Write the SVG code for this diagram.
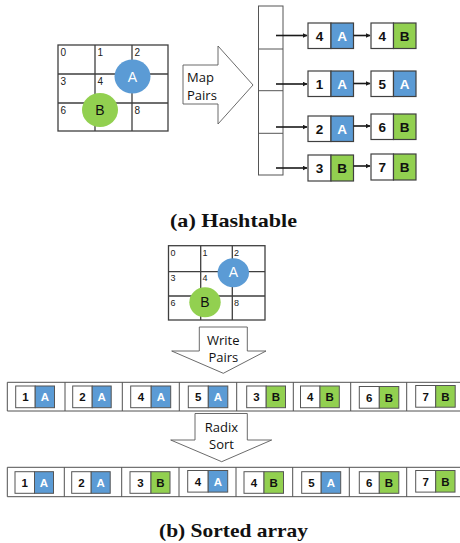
<svg xmlns="http://www.w3.org/2000/svg" width="460" height="543" viewBox="0 0 460 543">
  <defs>
    <marker id="ah" viewBox="0 0 10 10" refX="9" refY="5" markerWidth="5" markerHeight="5" orient="auto" markerUnits="userSpaceOnUse">
      <path d="M0,0 L10,5 L0,10 z" fill="#1a1a1a"/>
    </marker>
    <style>
      .grid{fill:none;stroke:#3f3f3f;stroke-width:1.3}
      .gnum{font-family:"Liberation Sans",Arial,sans-serif;font-size:10px;fill:#222}
      .gnum2{font-family:"Liberation Sans",Arial,sans-serif;font-size:9px;fill:#222}
      .blue{fill:#5b9bd5}
      .green{fill:#92d050}
      .circ{font-family:"Liberation Sans",Arial,sans-serif;font-size:14px;text-anchor:middle}
      .big{fill:#fff;stroke:#5a5a5a;stroke-width:0.9}
      .bigtxt{font-family:"Open Sans","Liberation Sans",sans-serif;font-size:13px;fill:#111}
      .bucket{fill:#fff;stroke:#555;stroke-width:1}
      .cellw{fill:#fff;stroke:#404040;stroke-width:1.2}
      .cellb{fill:#5b9bd5;stroke:#404040;stroke-width:1.2}
      .cellg{fill:#92d050;stroke:#404040;stroke-width:1.2}
      .num{font-family:"Liberation Sans",Arial,sans-serif;font-weight:bold;font-size:13.5px;text-anchor:middle;fill:#111}
      .lw{font-family:"Liberation Sans",Arial,sans-serif;font-weight:bold;font-size:13.5px;text-anchor:middle;fill:#fff}
      .lb{font-family:"Liberation Sans",Arial,sans-serif;font-weight:bold;font-size:13.5px;text-anchor:middle;fill:#111}
      .anum{font-family:"Liberation Sans",Arial,sans-serif;font-weight:bold;font-size:11.5px;text-anchor:middle;fill:#111}
      .alw{font-family:"Liberation Sans",Arial,sans-serif;font-weight:bold;font-size:11.5px;text-anchor:middle;fill:#fff}
      .alb{font-family:"Liberation Sans",Arial,sans-serif;font-weight:bold;font-size:11.5px;text-anchor:middle;fill:#111}
      .arr{fill:#fff;stroke:#505050;stroke-width:1}
      .pw{fill:#fff;stroke:#555;stroke-width:1}
      .pb{fill:#5b9bd5;stroke:#555;stroke-width:1}
      .pg{fill:#92d050;stroke:#555;stroke-width:1}
      .link{stroke:#1a1a1a;stroke-width:1.6;fill:none}
      .cap{font-family:"Liberation Serif","Times New Roman",serif;font-weight:bold;font-size:19px;text-anchor:middle;fill:#111}
    </style>
  </defs>

  <!-- (a) hashtable: 3x3 grid with the two particles -->
  <g id="grid-a">
    <rect class="grid" x="58" y="45" width="110" height="86"/>
    <path class="grid" d="M95,45V131M132,45V131M58,74H168M58,103H168"/>
    <text class="gnum" x="60.5" y="55.5">0</text>
    <text class="gnum" x="97.5" y="55.5">1</text>
    <text class="gnum" x="134.5" y="55.5">2</text>
    <text class="gnum" x="60.5" y="84.5">3</text>
    <text class="gnum" x="97.5" y="84.5">4</text>
    <text class="gnum" x="60.5" y="113.5">6</text>
    <text class="gnum" x="134.5" y="113.5">8</text>
  </g>
  <g id="particle-a1">
    <ellipse class="blue" cx="132.5" cy="76.5" rx="18" ry="17"/>
    <text class="circ" x="132.5" y="81.5" fill="#fff">A</text>
  </g>
  <g id="particle-b1">
    <ellipse class="green" cx="100" cy="110" rx="18" ry="17"/>
    <text class="circ" x="100" y="115" fill="#111">B</text>
  </g>

  <g id="map-pairs">
    <polygon class="big" points="183,65 218,65 218,46 253,85 218,124 218,104 183,104"/>
    <text class="bigtxt" x="187" y="81.5">Map</text>
    <text class="bigtxt" x="187" y="100">Pairs</text>
  </g>

  <g id="buckets">
    <rect class="bucket" x="258.5" y="6" width="24.5" height="169"/>
    <path class="bucket" d="M258.5,49H283M258.5,90.7H283M258.5,133.3H283"/>
  </g>

  <!-- hashtable entries -->
  <g id="e4A">
    <rect class="cellw" x="308" y="23" width="23" height="25.5"/>
    <rect class="cellb" x="331" y="23" width="22.5" height="25.5"/>
    <text class="num" x="319.5" y="40.5">4</text><text class="lw" x="342.2" y="40.5">A</text>
  </g>
  <g id="e4B">
    <rect class="cellw" x="371" y="23" width="22.5" height="25.5"/>
    <rect class="cellg" x="393.5" y="23" width="22.5" height="25.5"/>
    <text class="num" x="382.2" y="40.5">4</text><text class="lb" x="404.7" y="40.5">B</text>
  </g>
  <g id="e1A">
    <rect class="cellw" x="308" y="71" width="23" height="25.5"/>
    <rect class="cellb" x="331" y="71" width="22.5" height="25.5"/>
    <text class="num" x="319.5" y="88.5">1</text><text class="lw" x="342.2" y="88.5">A</text>
  </g>
  <g id="e5A">
    <rect class="cellw" x="371" y="71" width="22.5" height="25.5"/>
    <rect class="cellb" x="393.5" y="71" width="22.5" height="25.5"/>
    <text class="num" x="382.2" y="88.5">5</text><text class="lw" x="404.7" y="88.5">A</text>
  </g>
  <g id="e2A">
    <rect class="cellw" x="308" y="116" width="23" height="25.5"/>
    <rect class="cellb" x="331" y="116" width="22.5" height="25.5"/>
    <text class="num" x="319.5" y="133.5">2</text><text class="lw" x="342.2" y="133.5">A</text>
  </g>
  <g id="e6B">
    <rect class="cellw" x="371" y="114" width="22.5" height="25.5"/>
    <rect class="cellg" x="393.5" y="114" width="22.5" height="25.5"/>
    <text class="num" x="382.2" y="131.5">6</text><text class="lb" x="404.7" y="131.5">B</text>
  </g>
  <g id="e3B">
    <rect class="cellw" x="308" y="155" width="23" height="26"/>
    <rect class="cellg" x="331" y="155" width="22.5" height="26"/>
    <text class="num" x="319.5" y="172.5">3</text><text class="lb" x="342.2" y="172.5">B</text>
  </g>
  <g id="e7B">
    <rect class="cellw" x="371" y="154" width="22.5" height="26"/>
    <rect class="cellg" x="393.5" y="154" width="22.5" height="26"/>
    <text class="num" x="382.2" y="171.5">7</text><text class="lb" x="404.7" y="171.5">B</text>
  </g>

  <g id="links">
    <line class="link" x1="276" y1="35.5" x2="307" y2="35.5" marker-end="url(#ah)"/>
    <line class="link" x1="353.5" y1="35.5" x2="370" y2="35.5" marker-end="url(#ah)"/>
    <line class="link" x1="276" y1="84" x2="307" y2="84" marker-end="url(#ah)"/>
    <line class="link" x1="353.5" y1="83.5" x2="370" y2="83.5" marker-end="url(#ah)"/>
    <line class="link" x1="276" y1="127" x2="307" y2="127" marker-end="url(#ah)"/>
    <line class="link" x1="353.5" y1="126" x2="370" y2="126" marker-end="url(#ah)"/>
    <line class="link" x1="276" y1="168" x2="307" y2="168" marker-end="url(#ah)"/>
    <line class="link" x1="353.5" y1="166" x2="370" y2="166" marker-end="url(#ah)"/>
  </g>

  <text class="cap" x="233.5" y="226.5" textLength="127" lengthAdjust="spacingAndGlyphs">(a) Hashtable</text>

  <!-- (b) sorted array -->
  <g id="grid-b">
    <rect class="grid" x="168.5" y="245.7" width="96.5" height="74.3"/>
    <path class="grid" d="M200.7,245.7V320M232.3,245.7V320M168.5,271.7H265M168.5,296H265"/>
    <text class="gnum2" x="170.5" y="255.5">0</text>
    <text class="gnum2" x="202.5" y="255.5">1</text>
    <text class="gnum2" x="234" y="255.5">2</text>
    <text class="gnum2" x="170.5" y="280.5">3</text>
    <text class="gnum2" x="202.5" y="280.5">4</text>
    <text class="gnum2" x="170.5" y="305.5">6</text>
    <text class="gnum2" x="234" y="305.5">8</text>
  </g>
  <g id="particle-a2">
    <ellipse class="blue" cx="233.3" cy="272.7" rx="15.7" ry="14.5"/>
    <text class="circ" x="233.3" y="277.3" fill="#fff" font-size="13">A</text>
  </g>
  <g id="particle-b2">
    <ellipse class="green" cx="205" cy="302.3" rx="15.7" ry="15"/>
    <text class="circ" x="205" y="307" fill="#111" font-size="13">B</text>
  </g>

  <g id="write-pairs">
    <polygon class="big" points="199.3,327 247.3,327 247.3,351 266,351 223.3,373.3 171.7,351 199.3,351"/>
    <text class="bigtxt" x="223.3" y="344.5" text-anchor="middle">Write</text>
    <text class="bigtxt" x="223.3" y="362" text-anchor="middle">Pairs</text>
  </g>

  <g id="array-unsorted">
    <path class="arr" d="M460,382.3H7.3V411H460"/>
    <path class="arr" d="M65,382.3V411M122.3,382.3V411M179.3,382.3V411M236.7,382.3V411M293.3,382.3V411M350.7,382.3V411M406.7,382.3V411"/>
    <g id="u1"><rect class="pw" x="15.7" y="386" width="19.5" height="21.7"/><rect class="pb" x="35.2" y="386" width="19.3" height="21.7"/><text class="anum" x="25.4" y="401">1</text><text class="alw" x="44.8" y="401">A</text></g>
    <g id="u2"><rect class="pw" x="72.7" y="386" width="19.5" height="21.7"/><rect class="pb" x="92.2" y="386" width="19" height="21.7"/><text class="anum" x="82.4" y="401">2</text><text class="alw" x="101.7" y="401">A</text></g>
    <g id="u3"><rect class="pw" x="130.7" y="386" width="20.5" height="21.7"/><rect class="pb" x="151.2" y="386" width="19.5" height="21.7"/><text class="anum" x="141" y="401">4</text><text class="alw" x="161" y="401">A</text></g>
    <g id="u4"><rect class="pw" x="188.3" y="386" width="20" height="21.7"/><rect class="pb" x="208.3" y="386" width="19.5" height="21.7"/><text class="anum" x="198.3" y="401">5</text><text class="alw" x="218" y="401">A</text></g>
    <g id="u5"><rect class="pw" x="246.7" y="386" width="19.5" height="21.7"/><rect class="pg" x="266.2" y="386" width="19.3" height="21.7"/><text class="anum" x="256.4" y="401">3</text><text class="alb" x="275.8" y="401">B</text></g>
    <g id="u6"><rect class="pw" x="300.5" y="386" width="19.5" height="21.7"/><rect class="pg" x="320" y="386" width="19.3" height="21.7"/><text class="anum" x="310.2" y="401">4</text><text class="alb" x="329.6" y="401">B</text></g>
    <g id="u7"><rect class="pw" x="359.3" y="386.5" width="20" height="21.7"/><rect class="pg" x="379.3" y="386.5" width="19.5" height="21.7"/><text class="anum" x="369.3" y="401.5">6</text><text class="alb" x="389" y="401.5">B</text></g>
    <g id="u8"><rect class="pw" x="415.7" y="385.5" width="20" height="21.7"/><rect class="pg" x="435.7" y="385.5" width="19.5" height="21.7"/><text class="anum" x="425.7" y="400.5">7</text><text class="alb" x="445.4" y="400.5">B</text></g>
  </g>

  <g id="radix-sort">
    <polygon class="big" points="195,413.5 247.3,413.5 247.3,440 271.7,440 221.7,461.7 170.7,440 195,440"/>
    <text class="bigtxt" x="221.5" y="431.5" text-anchor="middle">Radix</text>
    <text class="bigtxt" x="221.5" y="449" text-anchor="middle">Sort</text>
  </g>

  <g id="array-sorted">
    <path class="arr" d="M460,467.3H7.3V496.7H460"/>
    <path class="arr" d="M64.3,467.3V496.7M121.7,467.3V496.7M179,467.3V496.7M236,467.3V496.7M292.7,467.3V496.7M349.3,467.3V496.7M406.7,467.3V496.7"/>
    <g id="s1"><rect class="pw" x="15" y="471.7" width="19.5" height="21.6"/><rect class="pb" x="34.5" y="471.7" width="19" height="21.6"/><text class="anum" x="24.7" y="486.7">1</text><text class="alw" x="44" y="486.7">A</text></g>
    <g id="s2"><rect class="pw" x="71.7" y="471.7" width="19.5" height="21.6"/><rect class="pb" x="91.2" y="471.7" width="19" height="21.6"/><text class="anum" x="81.4" y="486.7">2</text><text class="alw" x="100.7" y="486.7">A</text></g>
    <g id="s3"><rect class="pw" x="130" y="471.7" width="21" height="21.6"/><rect class="pg" x="151" y="471.7" width="19" height="21.6"/><text class="anum" x="140.5" y="486.7">3</text><text class="alb" x="160.5" y="486.7">B</text></g>
    <g id="s4"><rect class="pw" x="187.7" y="470.5" width="20.5" height="21.6"/><rect class="pb" x="208.2" y="470.5" width="19.5" height="21.6"/><text class="anum" x="198" y="485.5">4</text><text class="alw" x="218" y="485.5">A</text></g>
    <g id="s5"><rect class="pw" x="244" y="471.7" width="20" height="21.6"/><rect class="pg" x="264" y="471.7" width="19.5" height="21.6"/><text class="anum" x="254" y="486.7">4</text><text class="alb" x="273.7" y="486.7">B</text></g>
    <g id="s6"><rect class="pw" x="301.7" y="471.7" width="19.5" height="21.6"/><rect class="pb" x="321.2" y="471.7" width="19.5" height="21.6"/><text class="anum" x="311.4" y="486.7">5</text><text class="alw" x="331" y="486.7">A</text></g>
    <g id="s7"><rect class="pw" x="359.3" y="471.7" width="20" height="21.6"/><rect class="pg" x="379.3" y="471.7" width="19.5" height="21.6"/><text class="anum" x="369.3" y="486.7">6</text><text class="alb" x="389" y="486.7">B</text></g>
    <g id="s8"><rect class="pw" x="415.7" y="470.5" width="20" height="21.6"/><rect class="pg" x="435.7" y="470.5" width="19.3" height="21.6"/><text class="anum" x="425.7" y="485.5">7</text><text class="alb" x="445.3" y="485.5">B</text></g>
  </g>

  <text class="cap" x="233.5" y="537.3" textLength="149" lengthAdjust="spacingAndGlyphs">(b) Sorted array</text>
</svg>
